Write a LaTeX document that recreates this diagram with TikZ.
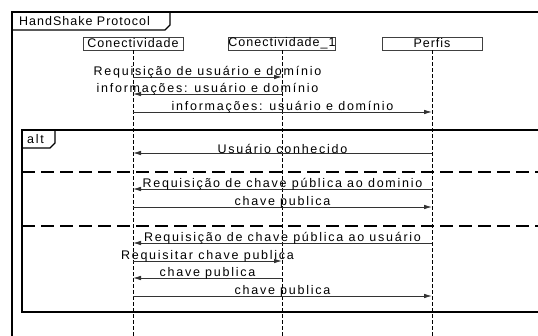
\documentclass[tikz,border=0pt]{standalone}
\usepackage{fontspec}
\setmainfont{Liberation Sans}[LetterSpace=14]
\newfontfamily\headfont{Liberation Sans}[LetterSpace=8]
\usetikzlibrary{arrows.meta,calc}

\begin{document}
\begin{tikzpicture}[x=1pt,y=-1pt,
	font=\fontsize{12.5}{14}\selectfont,
	lifebox/.style = {draw=black!75, minimum width=100pt, minimum height=13pt,
									 inner sep=0pt, font=\headfont\fontsize{12.5}{14}\selectfont},
	lifeline/.style = {draw, dash pattern=on 4pt off 2pt, line width=0.9pt},
	msg/.style = {draw=black!80, line width=0.8pt,
								-{Latex[length=8pt,width=4.5pt]}},
	frame/.style = {draw, line width=1.8pt},
	tab/.style = {draw, line width=1.3pt},
	sep/.style = {draw, line width=1.4pt, dash pattern=on 13pt off 6pt},
	lbl/.style = {above, inner sep=0pt, yshift=-1.5pt}]

\clip (0,0) rectangle (538,336);

% frames
\draw[frame] (12,12) rectangle (560,360);
\node[anchor=west, inner sep=0pt, font=\headfont\fontsize{12.5}{14}\selectfont]
	(title) at (19,21) {HandShake Protocol};
\draw[tab] (12,30) -- (165,30) -- (170,25) -- (170,12);

\draw[frame] (22,130) rectangle (560,312);
\node[anchor=west, inner sep=0pt] (alt) at (27,139) {alt};
\draw[tab] (22,148) -- (50,148) -- (55,143) -- (55,130);

\draw[sep] (22,172) -- (545,172);
\draw[sep] (22,226) -- (545,226);

% lifelines
\node[lifebox] (A) at (133,43.5) {Conectividade};
\node[lifebox, minimum width=103pt] (B) at (282,43.5) {Conectividade\_1};
\node[lifebox] (C) at (432,43.5) {Perfis};

\foreach \l in {A,B,C}
	\draw[lifeline] (\l.south) -- ++(0,300);

% messages
\foreach \n/\y in {1/77, 2/94, 3/112, 4/153, 5/189, 6/207,
									 7/243, 8/261, 9/278, 10/296}
	\coordinate (m\n) at (0,\y);

\draw[msg] (A |- m1) -- node[lbl] {Requisição de usuário e domínio} (B |- m1);
\draw[msg] (B |- m2) -- node[lbl] {informações: usuário e domínio} (A |- m2);
\draw[msg] (A |- m3) -- node[lbl] {informações: usuário e domínio} (C |- m3);
\draw[msg] (C |- m4) -- node[lbl] {Usuário conhecido} (A |- m4);
\draw[msg] (C |- m5) -- node[lbl] {Requisição de chave pública ao dominio} (A |- m5);
\draw[msg] (A |- m6) -- node[lbl] {chave publica} (C |- m6);
\draw[msg] (C |- m7) -- node[lbl] {Requisição de chave pública ao usuário} (A |- m7);
\draw[msg] (A |- m8) -- node[lbl] {Requisitar chave publica} (B |- m8);
\draw[msg] (B |- m9) -- node[lbl] {chave publica} (A |- m9);
\draw[msg] (A |- m10) -- node[lbl] {chave publica} (C |- m10);
\end{tikzpicture}
\end{document}
